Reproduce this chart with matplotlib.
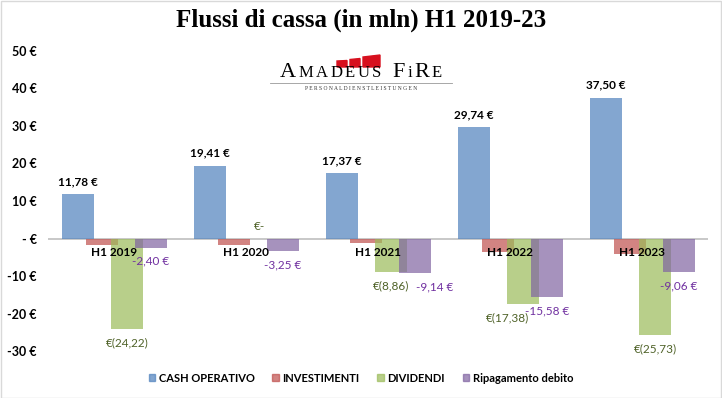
import matplotlib.pyplot as plt
from matplotlib.patches import Rectangle, Patch, Polygon
import numpy as np

categorie = ["H1 2019", "H1 2020", "H1 2021", "H1 2022", "H1 2023"]
cash_operativo = [11.78, 19.41, 17.37, 29.74, 37.50]
investimenti = [-1.8, -1.6, -1.2, -3.6, -4.2]
dividendi = [-24.22, 0.0, -8.86, -17.38, -25.73]
ripagamento = [-2.40, -3.25, -9.14, -15.58, -9.06]
yticks = [-30, -20, -10, 0, 10, 20, 30, 40, 50]

serie = ["CASH OPERATIVO", "INVESTIMENTI", "DIVIDENDI", "Ripagamento debito"]
colori = ["#4F81BD", "#C0504D", "#9BBB59", "#8064A2"]

FONT = "Lato"

fig = plt.figure(figsize=(7.22, 3.98), dpi=100)
ax = fig.add_axes([0.0665, 0.118, 0.914, 0.754])

x = np.arange(len(categorie))
w = 0.242
offsets = [-0.273, -0.09, 0.1, 0.28]
valori = [cash_operativo, investimenti, dividendi, ripagamento]
for vals, off, col in zip(valori, offsets, colori):
    ax.bar(x + off, vals, width=w, color=col, alpha=0.7, linewidth=0, zorder=2)

ax.axhline(0, color="#BFBFBF", lw=1.2, zorder=1)
ax.set_xlim(-0.5, len(categorie) - 0.5)
ax.set_ylim(-30, 50)
ax.set_yticks(yticks)
ax.set_yticklabels(["- €" if t == 0 else f"{t} €" for t in yticks],
                   fontsize=9, fontweight="bold", family=FONT)
ax.tick_params(axis="y", length=0, pad=8)
ax.set_xticks([])
for s in ax.spines.values():
    s.set_visible(False)

lab_font = dict(fontsize=8.5, family=FONT, ha="center", va="center")

# etichette categorie appena sotto lo zero
for i, c in enumerate(categorie):
    ax.annotate(c, (i, 0), xytext=(0, -10), textcoords="offset points",
                fontweight="bold", zorder=5, **lab_font)

# spostamenti manuali delle etichette (punti), come nel grafico originale
dx_div = [0, 0, 0, -11, 0]
dx_rip = [0, 0, 14, 0, 0]

for i in x:
    ax.annotate(f"{cash_operativo[i]:.2f} €".replace(".", ","),
                (i + offsets[0], cash_operativo[i]), xytext=(0, 9),
                textcoords="offset points", fontweight="bold", color="black", **lab_font)
    d = dividendi[i]
    if d == 0:
        txt, dy = "€-", 9
    else:
        txt, dy = f"€({abs(d):.2f})".replace(".", ","), -10
    ax.annotate(txt, (i + offsets[2], d), xytext=(dx_div[i], dy),
                textcoords="offset points", color="#4F6228", **lab_font)
    r = ripagamento[i]
    ax.annotate(f"{r:.2f} €".replace(".", ","), (i + offsets[3], r), xytext=(dx_rip[i], -10),
                textcoords="offset points", color="#7030A0", **lab_font)

fig.text(0.5, 1 - 20 / 398, "Flussi di cassa (in mln) H1 2019-23", ha="center", va="center",
         fontsize=18, fontweight="bold", family="Liberation Serif")

# logo
def px(xp, yp):
    return (xp / 722, 1 - yp / 398)

for x0, x1, ytop_l, ytop_r in [(337, 347, 61, 60.5), (350, 360, 59.5, 58.5), (363, 380, 57, 55)]:
    fig.patches.append(Polygon([px(x0, 67), px(x1, 67), px(x1, ytop_r), px(x0, ytop_l)],
                               closed=True, transform=fig.transFigure, color="#D7101E"))

logo = [("A", 16), ("MADEUS", 12), (" ", 12), ("F", 16), ("i", 12), ("R", 16), ("E", 12)]
renderer = fig.canvas.get_renderer()
pezzi = []
for s, size in logo:
    for ch in s:
        t = fig.text(0, 1 - 77 / 398, ch, ha="left", va="baseline", fontsize=size,
                     family="Liberation Serif", color="black")
        pezzi.append(t)
spazio = 2.5
larghezze = [t.get_window_extent(renderer).width if t.get_text() != " " else 6 for t in pezzi]
totale = sum(larghezze) + spazio * (len(pezzi) - 1)
xc = 361 - totale / 2
for t, wd in zip(pezzi, larghezze):
    t.set_x(xc / 722)
    xc += wd + spazio

fig.lines.append(plt.Line2D([270 / 722, 452 / 722], [1 - 83 / 398] * 2,
                            transform=fig.transFigure, color="#999999", lw=0.6))
fig.text(361 / 722, 1 - 89 / 398, "P E R S O N A L D I E N S T L E I S T U N G E N",
         ha="center", va="center", fontsize=4, family="Liberation Serif", color="#333333")

handles = [Patch(color=c, alpha=0.7) for c in colori]
fig.legend(handles, serie, loc="center", bbox_to_anchor=(0.5, 1 - 378 / 398), ncol=4,
           frameon=False, handlelength=0.6, handleheight=0.6, handletextpad=0.3,
           columnspacing=1.6, prop={"family": FONT, "size": 8, "weight": "bold"})

fig.patches.append(Rectangle((0.001, 0.001), 0.997, 0.997, transform=fig.transFigure,
                             fill=False, edgecolor="#D9D9D9", lw=1))

fig.savefig("out.png", dpi=100)
